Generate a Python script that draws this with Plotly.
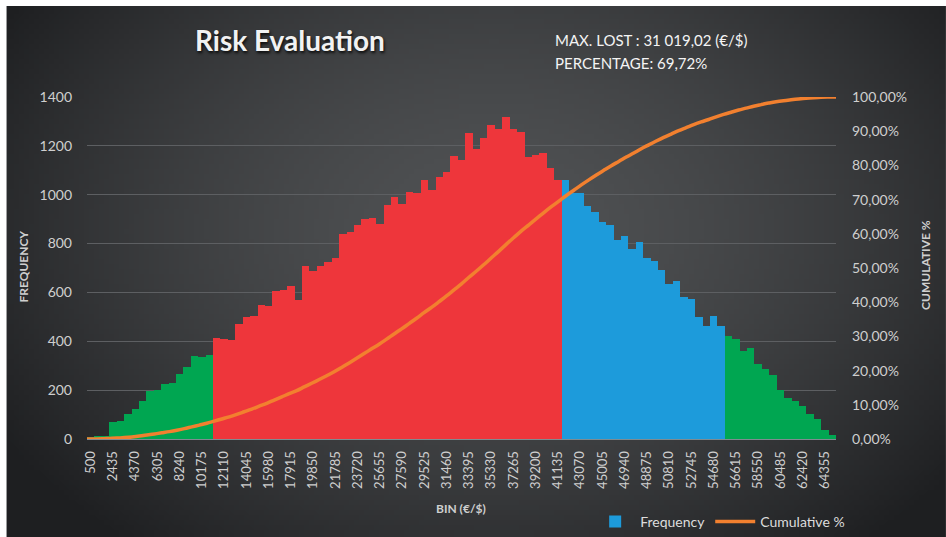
import base64, math, struct, zlib
import plotly.graph_objects as go

# ---------------- data ----------------
BIN_START = 500
BIN_WIDTH = 645
FREQUENCY = [
    5, 12, 12, 68, 75, 103, 123, 157, 196, 201,
    225, 229, 267, 294, 340, 334, 345, 412, 410, 405,
    471, 500, 505, 549, 546, 604, 608, 628, 568, 710,
    688, 708, 725, 743, 840, 848, 878, 900, 906, 880,
    957, 990, 963, 1010, 1006, 1060, 1018, 1071, 1092, 1160,
    1143, 1253, 1188, 1231, 1287, 1270, 1320, 1270, 1256, 1154,
    1161, 1170, 1108, 1060, 1060, 1009, 1009, 952, 928, 887,
    877, 816, 831, 778, 805, 740, 728, 690, 635, 646,
    581, 575, 499, 464, 503, 464, 420, 408, 360, 374,
    305, 288, 261, 200, 169, 156, 135, 101, 80, 37, 15,
]
BINS = [BIN_START + BIN_WIDTH * k for k in range(len(FREQUENCY))]
TICK_LABELS = ["500", "2435", "4370", "6305", "8240", "10175", "12110", "14045",
               "15980", "17915", "19850", "21785", "23720", "25655", "27590",
               "29525", "31460", "33395", "35330", "37265", "39200", "41135",
               "43070", "45005", "46940", "48875", "50810", "52745", "54680",
               "56615", "58550", "60485", "62420", "64355"]
# colour bands (bin value limits)
RED_FROM = 11465
BLUE_FROM = 41780
GREEN2_FROM = 55970
TITLE = "Risk Evaluation"
INFO_1 = "MAX. LOST : 31 019,02 (€/$)"
INFO_2 = "PERCENTAGE: 69,72%"

total = sum(FREQUENCY)
cum = []
s = 0
for f in FREQUENCY:
    s += f
    cum.append(s / total)

# ---------------- geometry helpers ----------------
W, H = 946, 537
L, R, T, B = 86.5, 836, 97, 439
def px(x):
    return (x - L) / (R - L)
def py(y):
    return (B - y) / (B - T)

# ---------------- background gradient image ----------------
def make_png(w, h):
    center = (80, 82, 84)
    edge = (30, 31, 33)
    raw = bytearray()
    for j in range(h):
        raw.append(0)
        for i in range(w):
            dx = (i / (w - 1) - 0.52) / 0.62
            dy = (j / (h - 1) - 0.42) / 0.78
            d = min(1.0, math.sqrt(dx * dx + dy * dy))
            t = d ** 1.6
            for c in range(3):
                raw.append(int(center[c] * (1 - t) + edge[c] * t))
    def chunk(tag, data):
        c = struct.pack(">I", len(data)) + tag + data
        return c + struct.pack(">I", zlib.crc32(tag + data) & 0xffffffff)
    png = b"\x89PNG\r\n\x1a\n"
    png += chunk(b"IHDR", struct.pack(">IIBBBBB", w, h, 8, 2, 0, 0, 0))
    png += chunk(b"IDAT", zlib.compress(bytes(raw), 9))
    png += chunk(b"IEND", b"")
    return "data:image/png;base64," + base64.b64encode(png).decode()

bg = make_png(188, 106)

GREEN = "#00a651"
RED = "#ee363b"
BLUE = "#1d9bdb"
ORANGE = "#f2802f"
TXT = "#cfcfcf"
FONT = "Lato"

def band(lo, hi):
    xs, ys = [], []
    for b, f in zip(BINS, FREQUENCY):
        if lo <= b < hi:
            xs.append(b)
            ys.append(f)
    return xs, ys

fig = go.Figure()
for (lo, hi, col, name, show) in [
    (BLUE_FROM, GREEN2_FROM, BLUE, "Frequency", True),
    (-1e9, RED_FROM, GREEN, "Frequency", False),
    (RED_FROM, BLUE_FROM, RED, "Frequency", False),
    (GREEN2_FROM, 1e9, GREEN, "Frequency", False),
]:
    xs, ys = band(lo, hi)
    fig.add_trace(go.Bar(x=xs, y=ys, width=BIN_WIDTH, name=name, showlegend=show,
                         marker=dict(color=col, line=dict(width=0)),
                         hoverinfo="x+y"))

fig.add_trace(go.Scatter(x=list(range(len(cum))), y=cum, name="Cumulative %",
                         mode="lines", xaxis="x2", yaxis="y2",
                         line=dict(color=ORANGE, width=3.5, shape="spline")))

tickvals = [int(t) for t in TICK_LABELS]
fig.update_layout(
    width=W, height=H,
    margin=dict(l=L, r=W - R, t=T, b=H - B, pad=0, autoexpand=False),
    paper_bgcolor="white", plot_bgcolor="rgba(0,0,0,0)",
    separators=", ",
    bargap=0, barmode="overlay",
    font=dict(family=FONT, color=TXT),
    xaxis=dict(range=[BINS[0] - BIN_WIDTH / 2, BINS[-1] + BIN_WIDTH / 2],
               tickvals=tickvals, ticktext=TICK_LABELS, tickangle=-90,
               tickfont=dict(size=13, color=TXT, family=FONT),
               showgrid=False, zeroline=False, showline=True,
               linecolor="#7f8b90", linewidth=1, ticks="", ticklabelstandoff=6,
               automargin=False),
    xaxis2=dict(overlaying="x", range=[0, len(cum) - 1], visible=False),
    yaxis=dict(range=[0, 1400], dtick=200, showgrid=True, gridcolor="#5d5f62",
               gridwidth=1, zeroline=False, ticks="", ticklabelstandoff=14,
               automargin=False,
               tickfont=dict(size=14, color=TXT, family=FONT)),
    yaxis2=dict(range=[0, 1], dtick=0.1, tickformat=".2%", overlaying="y",
                side="right", showgrid=False, zeroline=False, ticks="",
                ticklabelstandoff=15, automargin=False,
                tickfont=dict(size=14, color=TXT, family=FONT)),
    legend=dict(orientation="h", x=px(590), y=py(522), xanchor="left",
                yanchor="middle", bgcolor="rgba(0,0,0,0)", borderwidth=0,
                font=dict(size=14, color="#dddddd", family=FONT),
                itemwidth=40, traceorder="normal", tracegroupgap=0),
    showlegend=True,
    images=[dict(source=bg, xref="paper", yref="paper",
                 x=px(6), y=py(6), sizex=px(946) - px(6), sizey=py(6) - py(537),
                 xanchor="left", yanchor="top", sizing="stretch", layer="below")],
    annotations=[
        dict(text=TITLE, x=px(290), y=py(40), xref="paper", yref="paper",
             showarrow=False, xanchor="center", yanchor="middle",
             font=dict(size=28, color="#f2f2f2", family=FONT, weight="bold",
                       shadow="1px 2px 3px rgba(0,0,0,0.85)")),
        dict(text=INFO_1, x=px(553), y=py(40), xref="paper", yref="paper",
             showarrow=False, xanchor="left", yanchor="middle",
             font=dict(size=15, color="#f4f4f4", family=FONT)),
        dict(text=INFO_2, x=px(553), y=py(63), xref="paper", yref="paper",
             showarrow=False, xanchor="left", yanchor="middle",
             font=dict(size=15, color="#f4f4f4", family=FONT)),
        dict(text="FREQUENCY", x=px(22), y=py(267), xref="paper", yref="paper",
             showarrow=False, textangle=-90, xanchor="center", yanchor="middle",
             font=dict(size=12, color=TXT, family=FONT, weight="bold")),
        dict(text="CUMULATIVE %", x=px(925), y=py(265), xref="paper", yref="paper",
             showarrow=False, textangle=-90, xanchor="center", yanchor="middle",
             font=dict(size=12, color=TXT, family=FONT, weight="bold")),
        dict(text="BIN (€/$)", x=px(461), y=py(508), xref="paper", yref="paper",
             showarrow=False, xanchor="center", yanchor="middle",
             font=dict(size=12, color=TXT, family=FONT, weight="bold")),
    ],
)

fig.write_html("out.html", config={"displayModeBar": False},
               post_script="document.body.style.margin='0';document.body.style.overflow='hidden';")
